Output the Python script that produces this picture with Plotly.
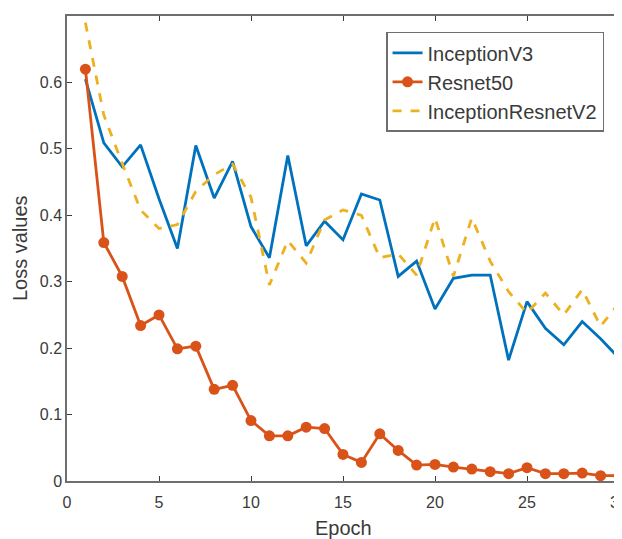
import plotly.graph_objects as go

epochs = list(range(1, 31))
inception_v3 = [0.605, 0.509, 0.473, 0.506, 0.425, 0.350, 0.505, 0.426, 0.481, 0.383,
                0.336, 0.490, 0.354, 0.391, 0.363, 0.432, 0.423, 0.308, 0.331, 0.259,
                0.305, 0.310, 0.310, 0.182, 0.270, 0.230, 0.205, 0.240, 0.214, 0.185]
resnet50 = [0.620, 0.359, 0.308, 0.234, 0.250, 0.199, 0.203, 0.138, 0.144, 0.091,
            0.068, 0.068, 0.081, 0.079, 0.040, 0.028, 0.071, 0.046, 0.024, 0.025,
            0.021, 0.018, 0.014, 0.011, 0.020, 0.011, 0.011, 0.012, 0.008, 0.008]
inception_resnet_v2 = [0.690, 0.551, 0.478, 0.408, 0.380, 0.386, 0.436, 0.461, 0.477, 0.427,
                       0.295, 0.362, 0.328, 0.393, 0.408, 0.400, 0.336, 0.342, 0.310, 0.396,
                       0.308, 0.396, 0.331, 0.285, 0.253, 0.283, 0.250, 0.288, 0.233, 0.268]
x_ticks = [0, 5, 10, 15, 20, 25, 30]
y_ticks = [0, 0.1, 0.2, 0.3, 0.4, 0.5, 0.6, 0.7]
y_tick_labels = ["0", "0.1", "0.2", "0.3", "0.4", "0.5", "0.6", "0.7"]
x_title = "Epoch"
y_title = "Loss values"

FONT = "Liberation Sans, Arial, Helvetica, sans-serif"
AXC = "#3a3a3a"
LINEC = "#6e6e6e"

fig = go.Figure()
fig.add_trace(go.Scatter(x=epochs, y=inception_v3, mode="lines", name="InceptionV3",
                         legendgroup="a",
                         line=dict(color="#0072BD", width=2.8)))
fig.add_trace(go.Scatter(x=epochs, y=resnet50, mode="lines+markers", name="Resnet50",
                         legendgroup="b",
                         line=dict(color="#D95319", width=2.8),
                         marker=dict(color="#D95319", size=11, symbol="circle")))
fig.add_trace(go.Scatter(x=epochs, y=inception_resnet_v2, mode="lines", name="InceptionResnetV2",
                         legendgroup="c",
                         line=dict(color="#EDB120", width=2.8, dash="dash")))

fig.update_layout(
    width=622, height=539,
    margin=dict(l=59, r=11, t=8, b=66, autoexpand=False),
    paper_bgcolor="white", plot_bgcolor="white",
    font=dict(family=FONT, color=AXC, size=16),
    showlegend=True,
    legend=dict(x=0.578, y=0.966, xanchor="left", yanchor="top",
                bgcolor="white", bordercolor=LINEC, borderwidth=1.5,
                font=dict(family=FONT, size=20, color=AXC),
                traceorder="grouped", tracegroupgap=0),
    xaxis=dict(range=[0, 30], tickvals=x_ticks, ticks="inside", ticklen=5,
               showline=True, linecolor=LINEC, linewidth=1.5, mirror="ticks",
               showgrid=False, zeroline=False, tickcolor=AXC, automargin=False,
               ticklabelstandoff=6,
               tickfont=dict(size=16, color=AXC)),
    yaxis=dict(range=[0, 0.7], tickvals=y_ticks, ticktext=y_tick_labels,
               ticks="inside", ticklen=5,
               showline=True, linecolor=LINEC, linewidth=1.5, mirror="ticks",
               showgrid=False, zeroline=False, tickcolor=AXC, automargin=False,
               ticklabelstandoff=0,
               tickfont=dict(size=16, color=AXC)),
    annotations=[
        dict(text=x_title, xref="paper", yref="paper", x=0.5, y=-0.1,
             xanchor="center", yanchor="middle", showarrow=False,
             font=dict(family=FONT, size=20, color=AXC)),
        dict(text=y_title, xref="paper", yref="paper", x=-0.086, y=0.5,
             xanchor="center", yanchor="middle", showarrow=False, textangle=-90,
             font=dict(family=FONT, size=20, color=AXC)),
    ],
)

fig.write_html("out.html")
